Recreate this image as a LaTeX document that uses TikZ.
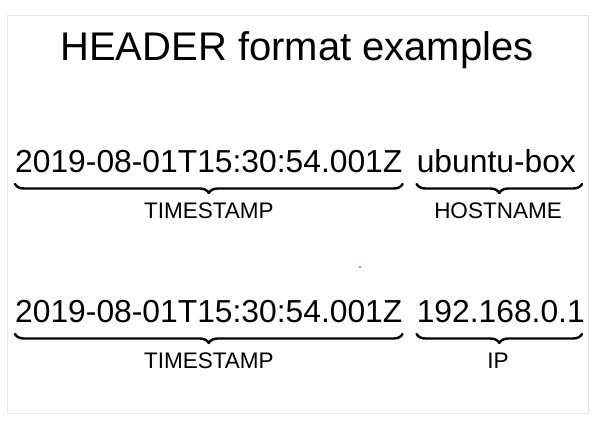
\documentclass[tikz,border=0pt]{standalone}
\usepackage{fontspec}
\setmainfont{Liberation Sans}
\usetikzlibrary{decorations.pathreplacing}
\tikzset{
    big/.style={inner sep=0pt, anchor=base west, font=\fontsize{31.8}{36}\selectfont},
    lab/.style={inner sep=0pt, anchor=base, font=\fontsize{22.5}{26}\selectfont},
    hbrace/.style={decorate, decoration={brace, mirror, amplitude=9pt}, line width=2.4pt, line cap=round, line join=round},
}

\begin{document}
\begin{tikzpicture}[x=1pt, y=-1pt]
    \useasboundingbox (0,0) rectangle (599,424);
    \draw[black!10] (7,15) rectangle (588,413);

    \path (15,172) coordinate (R1);
    \path (15,322) coordinate (R2);
    \path (582,0) coordinate (RE);
    \path (498,0) coordinate (MID);

    \node[inner sep=0pt, anchor=base, font=\fontsize{40}{46}\selectfont] (title) at (297,60) {HEADER format examples};

    \node[big] (ts1) at (R1) {2019-08-01T15:30:54.001Z};
    \node[big] (host) at ([xshift=14pt]ts1.base east) {ubuntu-box};
    \draw[hbrace] ([yshift=-12pt]ts1.base west) -- ([yshift=-12pt]ts1.base east);
    \draw[hbrace] ([yshift=-12pt]host.base west) -- ([yshift=-12pt]host.base west -| RE);
    \node[lab] (tslab1) at ([yshift=-46pt]ts1.base) {TIMESTAMP};
    \node[lab] (hostlab) at ([yshift=-46pt]host.base -| MID) {HOSTNAME};

    \node[big] (ts2) at (R2) {2019-08-01T15:30:54.001Z};
    \node[big] (ip) at ([xshift=14pt]ts2.base east) {192.168.0.1};
    \draw[hbrace] ([yshift=-12pt]ts2.base west) -- ([yshift=-12pt]ts2.base east);
    \draw[hbrace] ([yshift=-12pt]ip.base west) -- ([yshift=-12pt]ip.base west -| RE);
    \node[lab] (tslab2) at ([yshift=-46pt]ts2.base) {TIMESTAMP};
    \node[lab] (iplab) at ([yshift=-46pt]ip.base -| MID) {IP};

    \fill[red] (360,267) circle (0.8pt);
\end{tikzpicture}
\end{document}
